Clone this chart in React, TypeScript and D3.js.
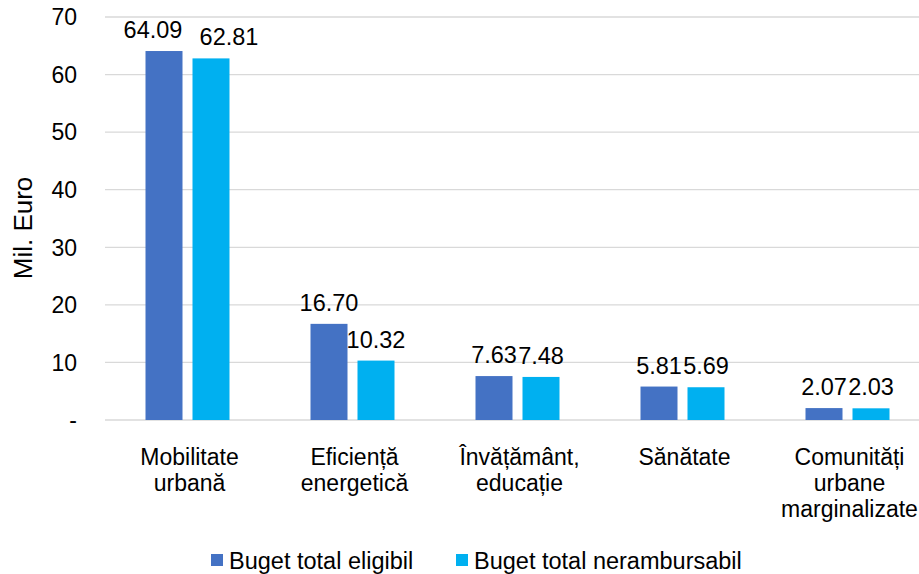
import React from "react";
import * as d3 from "d3";

const categories = [
  ["Mobilitate", "urbană"],
  ["Eficiență", "energetică"],
  ["Învățământ,", "educație"],
  ["Sănătate"],
  ["Comunități", "urbane", "marginalizate"],
];
const eligibil = [64.09, 16.7, 7.63, 5.81, 2.07];
const nerambursabil = [62.81, 10.32, 7.48, 5.69, 2.03];
const seriesNames = ["Buget total eligibil", "Buget total nerambursabil"];
const colors = ["#4472C4", "#00B0F0"];
const yTicks = [0, 10, 20, 30, 40, 50, 60, 70];

export default function App() {
  const W = 919, H = 574;
  const left = 105, right = 930, top = 17, bottom = 420;
  const x = d3.scaleBand<number>().domain(d3.range(categories.length)).range([left, right]).paddingInner(0).paddingOuter(0);
  const y = d3.scaleLinear().domain([0, 70]).range([bottom, top]);
  const bw = 37, gap = 10;
  const font = "'Liberation Sans', Arial, sans-serif";
  const series = [eligibil, nerambursabil];
  const labelFs = 23.5;
  // nudge labels apart when the two labels of a category would collide (as the reference does for the tallest pair)
  const nudge = (si: number, i: number) => {
    const a = eligibil[i], b = nerambursabil[i];
    const overlapV = Math.abs(y(a) - y(b)) < labelFs;
    const wA = a.toFixed(2).length * 0.5 * labelFs;
    const wB = b.toFixed(2).length * 0.5 * labelFs;
    const needed = (wA + wB) / 2 - (bw + gap);
    if (overlapV && needed > 5) return si === 0 ? -11 : 18;
    return 0;
  };
  return (
    <svg width={W} height={H} style={{ position: "absolute", left: 0, top: 0 }} fontFamily={font}>
      <rect width={W} height={H} fill="#fff" />
      {yTicks.map((t) => (
        <g key={t}>
          <line x1={left} x2={W} y1={y(t)} y2={y(t)} stroke="#d9d9d9" strokeWidth={1.3} />
          <text x={77} y={y(t)} dy="0.36em" textAnchor="end" fontSize={23} fill="#000">
            {t === 0 ? "-" : t}
          </text>
        </g>
      ))}
      <text transform={`translate(32,${228}) rotate(-90)`} textAnchor="middle" fontSize={26} fill="#000">
        Mil. Euro
      </text>
      {series.map((s, si) =>
        s.map((v, i) => {
          const cx = x(i)! + x.bandwidth() / 2;
          const bx = si === 0 ? cx - gap / 2 - bw : cx + gap / 2;
          return (
            <g key={`${si}-${i}`}>
              <rect x={bx} y={y(v)} width={bw} height={bottom - y(v)} fill={colors[si]} />
              <text x={bx + bw / 2 + nudge(si, i)} y={y(v) - 13} textAnchor="middle" fontSize={labelFs} fill="#000">
                {v.toFixed(2)}
              </text>
            </g>
          );
        })
      )}
      {categories.map((lines, i) => {
        const cx = x(i)! + x.bandwidth() / 2 + 2;
        return (
          <text key={i} x={cx} y={465} textAnchor="middle" fontSize={23} fill="#000">
            {lines.map((l, j) => (
              <tspan key={j} x={cx} dy={j === 0 ? 0 : 26}>
                {l}
              </tspan>
            ))}
          </text>
        );
      })}
      {seriesNames.map((n, i) => {
        const lx = i === 0 ? 211 : 456;
        return (
          <g key={n}>
            <rect x={lx} y={554} width={12} height={12} fill={colors[i]} />
            <text x={lx + 18} y={569} fontSize={23.5} fill="#000">
              {n}
            </text>
          </g>
        );
      })}
    </svg>
  );
}
